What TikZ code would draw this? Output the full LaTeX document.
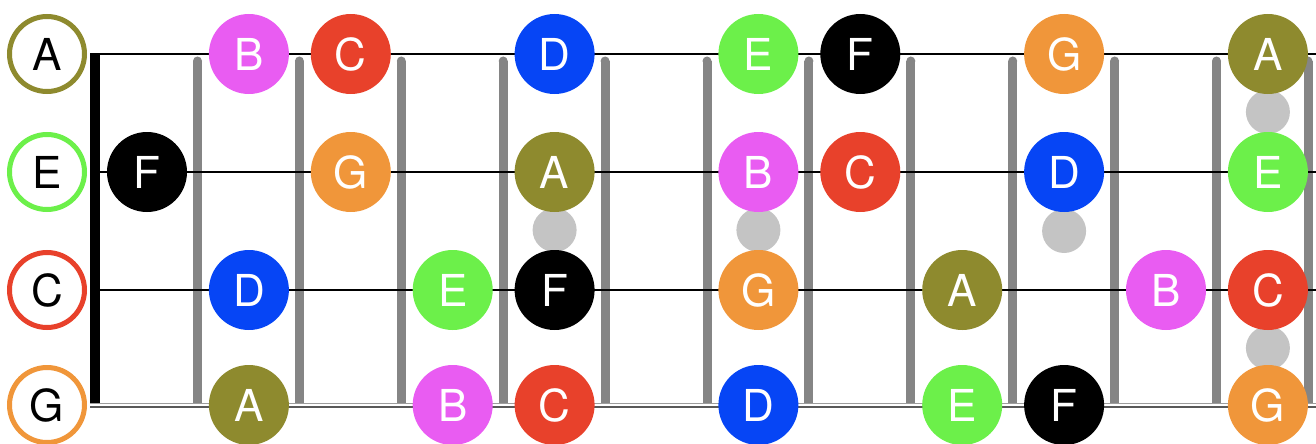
\documentclass[tikz,border=0pt]{standalone}
\usepackage{fontspec}
\setmainfont{TeX Gyre Heros}
\definecolor{colA}{HTML}{8E8A2E}
\definecolor{colB}{HTML}{E95CF2}
\definecolor{colC}{HTML}{E8412B}
\definecolor{colD}{HTML}{0645F5}
\definecolor{colE}{HTML}{6CF04A}
\definecolor{colF}{HTML}{000000}
\definecolor{colG}{HTML}{F0963A}
\definecolor{fretgray}{HTML}{858585}
\definecolor{dotgray}{HTML}{C4C4C4}
\begin{document}
\begin{tikzpicture}[x=1pt,y=-1pt,
  note/.style={circle, fill=col#1, minimum size=80pt, inner sep=0pt, text=white,
    font=\fontsize{44}{48}\selectfont},
  openstr/.style={circle, draw=col#1, minimum size=75pt, inner sep=0pt, line width=5pt,
    text=black, fill=white, font=\fontsize{44}{48}\selectfont},
  fretbar/.style={draw=fretgray, line width=9pt},
  marker/.style={circle, fill=dotgray, minimum size=44pt, inner sep=0pt},
  strline/.style={draw=black, line width=1.5pt}]
\useasboundingbox (0,0) rectangle (1316,444);
% frets
\foreach \k in {0,...,10} {
  \pgfmathsetmacro{\fx}{197.5+101.9*\k}
  \draw[fretbar] (\fx,61) -- (\fx,403);
  \fill[fretgray] (\fx,61) circle (4.5);
}
\draw[fretbar] (1308,61) -- (1308,403);
\fill[fretgray] (1308,61) circle (4.5);
% nut
\fill[black] (90,53) rectangle (100,404);
% strings
\foreach \y in {54,172,290} {
  \draw[strline] (95,\y) -- (1316,\y);
}
\draw[draw=fretgray!80, line width=1.4pt] (90,403.3) -- (1316,403.3);
\draw[draw=black!65, line width=2.2pt] (90,406.8) -- (1316,406.8);
% position markers
\node[marker] (m5) at (554.6,230) {};
\node[marker] (m7) at (758.4,230) {};
\node[marker] (m10) at (1064.1,231) {};
\node[marker] (m12a) at (1267.9,112) {};
\node[marker] (m12b) at (1267.9,348) {};
% open strings
\node[openstr=A] (oA) at (47,54) {A};
\node[openstr=E] (oE) at (47,172) {E};
\node[openstr=C] (oC) at (47,290) {C};
\node[openstr=G] (oG) at (47,405) {G};
% notes
\foreach \s/\y/\list in {
  A/54/{B/2,C/3,D/5,E/7,F/8,G/10,A/12},
  E/172/{F/1,G/3,A/5,B/7,C/8,D/10,E/12},
  C/290/{D/2,E/4,F/5,G/7,A/9,B/11,C/12},
  G/405/{A/2,B/4,C/5,D/7,E/9,F/10,G/12}} {
  \foreach \n/\f in \list {
    \pgfmathsetmacro{\nx}{147+101.9*(\f-1)}
    \node[note=\n] (n\s\f) at (\nx,\y) {\n};
  }
}
\end{tikzpicture}
\end{document}
